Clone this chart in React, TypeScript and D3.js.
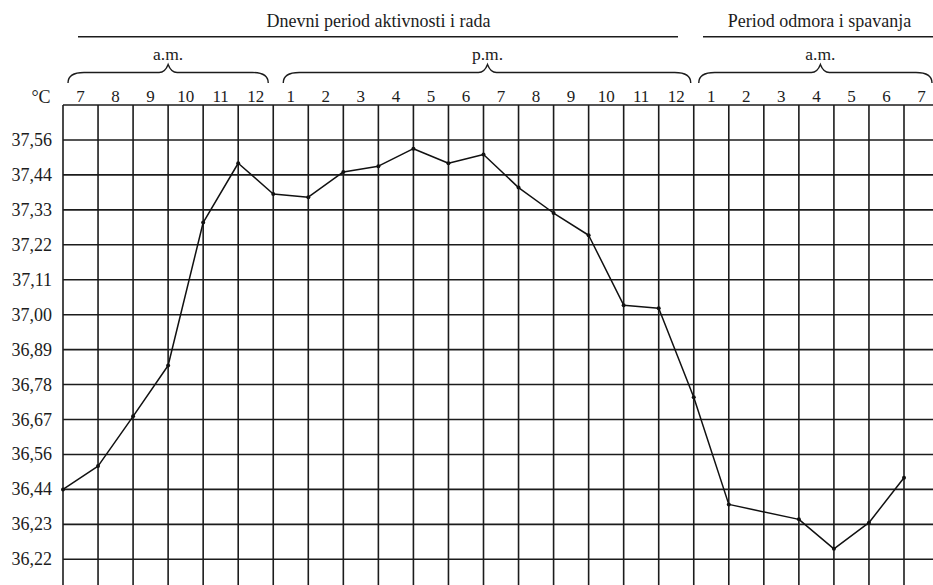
import React from "react";
import * as d3 from "d3";

const hourLabels: string[] = [
  "7", "8", "9", "10", "11", "12",
  "1", "2", "3", "4", "5", "6", "7", "8", "9", "10", "11", "12",
  "1", "2", "3", "4", "5", "6", "7",
];
const tempLabels: string[] = [
  "37,56", "37,44", "37,33", "37,22", "37,11", "37,00", "36,89",
  "36,78", "36,67", "36,56", "36,44", "36,23", "36,22",
];
// hour slot index (gridline) and temperature reading
const pointSlots: number[] = [0, 1, 2, 3, 4, 5, 6, 7, 8, 9, 10, 11, 12, 13, 14, 15, 16, 17, 18, 19, 21, 22, 23, 24];
const pointTemps: number[] = [
  36.44, 36.52, 36.68, 36.84, 37.29, 37.48, 37.38, 37.37, 37.45, 37.47, 37.53, 37.48,
  37.51, 37.40, 37.32, 37.25, 37.03, 37.02, 36.74, 36.35, 36.26, 36.223, 36.24, 36.48,
];
const periodTitles: string[] = ["Dnevni period aktivnosti i rada", "Period odmora i spavanja"];
const braceLabels: string[] = ["a.m.", "p.m.", "a.m."];

const W = 933;
const H = 585;
const FONT = "'Liberation Serif', 'Times New Roman', serif";
const INK = "#1c1c1c";

export default function App() {
  const x = d3.scaleLinear().domain([0, 24]).range([63, 904]);
  const step = x(1) - x(0);
  const rowStep = (559.3 - 105) / 13;
  const yLab = d3
    .scalePoint<string>()
    .domain(tempLabels)
    .range([105 + rowStep, 559.3]);
  const tempNums = tempLabels.map((t) => parseFloat(t.replace(",", ".")));
  const y = d3
    .scaleLinear()
    .domain(tempNums.slice().reverse())
    .range(tempLabels.map((t) => yLab(t) as number).reverse());

  const pts: [number, number][] = pointSlots.map((s, i) => [x(s), y(pointTemps[i])]);
  const line = d3.line()(pts) || "";

  const hLines = d3.range(0, 14).map((k) => 105 + k * rowStep);
  const vLines = d3.range(0, 25).map((i) => x(i));

  const brace = (x0: number, x1: number, pk: number) => {
    const yb = 83, yf = 72.5, yp = 64.5;
    return `M${x0},${yb} Q${x0},${yf} ${x0 + 16},${yf} L${pk - 9},${yf} Q${pk - 3},${yf} ${pk},${yp} Q${pk + 3},${yf} ${pk + 9},${yf} L${x1 - 16},${yf} Q${x1},${yf} ${x1},${yb}`;
  };
  const braces = [
    { x0: x(0) + 5, x1: x(6) - 5, pk: x(3) },
    { x0: x(6) + 10, x1: x(18) - 3, pk: x(12) + 4 },
    { x0: x(18) + 5, x1: 932, pk: x(21.5) + 4 },
  ];

  return (
    <svg
      width={W}
      height={H}
      style={{ position: "absolute", left: 0, top: 0, background: "#fff" }}
      fontFamily={FONT}
    >
      <rect width={W} height={H} fill="#fff" />
      {/* period titles */}
      <text x={378.5} y={27} fontSize={18} textAnchor="middle" fill={INK}>{periodTitles[0]}</text>
      <text x={819.5} y={27} fontSize={18} textAnchor="middle" fill={INK}>{periodTitles[1]}</text>
      <line x1={78} x2={678} y1={36.7} y2={36.7} stroke={INK} strokeWidth={1.5} />
      <line x1={703} x2={933} y1={36.7} y2={36.7} stroke={INK} strokeWidth={1.5} />

      {/* braces */}
      {braces.map((b, i) => (
        <g key={i}>
          <path d={brace(b.x0, b.x1, b.pk)} fill="none" stroke={INK} strokeWidth={1.4} />
          <text x={b.pk} y={60} fontSize={17.5} textAnchor="middle" fill={INK}>{braceLabels[i]}</text>
        </g>
      ))}

      {/* hour labels */}
      {hourLabels.map((h, i) => (
        <text key={i} x={x(i) + step / 2} y={102} fontSize={17} textAnchor="middle" fill={INK}>{h}</text>
      ))}
      <text x={41} y={103} fontSize={18} textAnchor="middle" fill={INK}>°C</text>

      {/* grid */}
      {hLines.map((yy, i) => (
        <line key={"h" + i} x1={63} x2={W} y1={yy} y2={yy} stroke={INK} strokeWidth={1.6} />
      ))}
      {vLines.map((xx, i) => (
        <line key={"v" + i} x1={xx} x2={xx} y1={105} y2={H} stroke={INK} strokeWidth={1.6} />
      ))}

      {/* temperature labels */}
      {tempLabels.map((t) => (
        <text key={t} x={52} y={(yLab(t) as number) + 6} fontSize={18} textAnchor="end" fill={INK}>{t}</text>
      ))}

      {/* curve */}
      <path d={line} fill="none" stroke="#111" strokeWidth={1.5} strokeLinejoin="round" />
      {pts.map((p, i) => (
        <circle key={i} cx={p[0]} cy={p[1]} r={2} fill="#111" />
      ))}
    </svg>
  );
}
